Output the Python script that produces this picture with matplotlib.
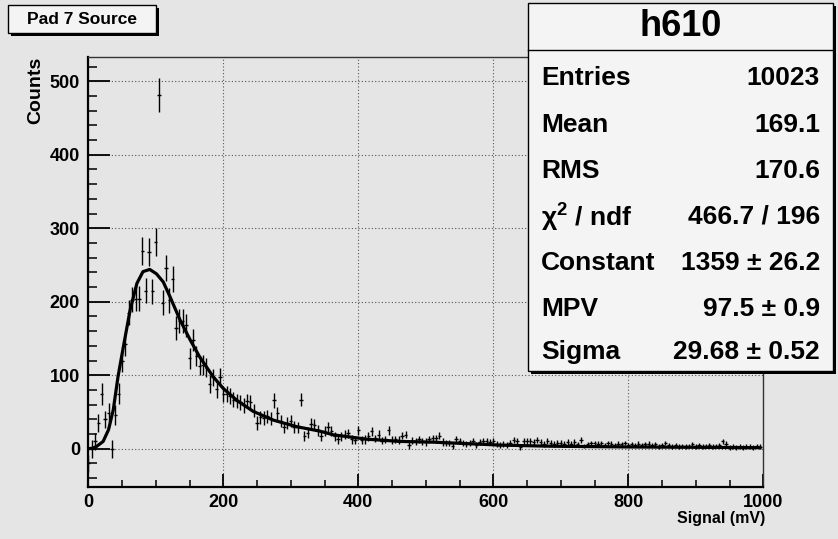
import numpy as np
import matplotlib
matplotlib.use("Agg")
import matplotlib.pyplot as plt
from matplotlib.patches import Rectangle
from matplotlib.ticker import MultipleLocator

# histogram h610: 200 bins of 5 mV, centres at 0..995 mV
bin_centres = np.arange(200) * 5.0
counts = [
    -20, 0, 10, 35, 74, 40, 49, 0, 46, 75,
    119, 142, 185, 203, 204, 204, 269, 215, 268, 214,
    281, 481, 199, 246, 202, 231, 164, 174, 174, 168,
    123, 148, 126, 113, 114, 110, 88, 97, 81, 98,
    75, 75, 72, 67, 65, 63, 59, 65, 63, 52,
    35, 43, 42, 44, 41, 66, 48, 38, 29, 35,
    38, 30, 29, 67, 17, 22, 34, 33, 25, 17,
    24, 30, 24, 17, 13, 17, 19, 21, 13, 12,
    25, 12, 13, 17, 24, 14, 19, 11, 13, 25,
    12, 13, 12, 18, 19, 5, 11, 10, 13, 10,
    9, 13, 14, 14, 18, 9, 8, 8, 4, 13,
    11, 8, 7, 8, 11, 5, 9, 11, 10, 9,
    11, 7, 5, 6, 5, 8, 12, 10, 3, 10,
    10, 11, 9, 12, 9, 6, 10, 8, 6, 8,
    8, 7, 9, 7, 9, 6, 12, 4, 6, 8,
    8, 7, 8, 5, 8, 7, 5, 7, 6, 8,
    5, 6, 5, 7, 5, 6, 7, 5, 6, 3,
    5, 8, 5, 3, 5, 3, 4, 3, 4, 6,
    3, 5, 3, 4, 5, 3, 4, 5, 10, 7,
    2, 3, 2, 3, 2, 3, 3, 2, 4, 3,
]
errors = [
    12, 12, 12, 12, 15, 12, 13, 12, 13, 14,
    15, 16, 17, 17, 17, 17, 19, 17, 19, 17,
    19, 23, 17, 18, 17, 18, 16, 16, 16, 16,
    14, 15, 14, 13, 13, 13, 12, 12, 12, 12,
    11, 11, 11, 10, 10, 10, 10, 10, 10, 9,
    9, 9, 9, 9, 9, 10, 9, 8, 8, 8,
    8, 8, 8, 9, 7, 7, 8, 8, 7, 7,
    7, 7, 7, 6, 6, 6, 6, 6, 6, 6,
    6, 6, 6, 6, 6, 5, 6, 5, 5, 6,
    5, 5, 5, 5, 5, 5, 5, 5, 5, 5,
    5, 5, 5, 5, 5, 5, 4, 4, 4, 5,
    4, 4, 4, 4, 4, 4, 4, 4, 4, 4,
    4, 4, 4, 4, 4, 4, 4, 4, 4, 4,
    4, 4, 4, 4, 4, 4, 4, 4, 4, 4,
    4, 4, 4, 4, 4, 3, 4, 3, 3, 3,
    3, 3, 3, 3, 3, 3, 3, 3, 3, 3,
    3, 3, 3, 3, 3, 3, 3, 3, 3, 3,
    3, 3, 3, 3, 3, 3, 3, 3, 3, 3,
    3, 3, 3, 3, 3, 3, 3, 3, 3, 3,
    3, 3, 3, 3, 3, 3, 3, 3, 3, 3,
]

# Landau fit curve
fit_x = [0, 7, 12, 22, 30, 37, 44, 52, 62, 72, 81, 91, 101, 111, 121, 136, 151,
         165, 185, 200, 220, 244, 274, 309, 343, 363, 413, 462, 511, 561, 610,
         684, 800, 900, 995]
fit_y = [0, 1, 3, 10, 26, 53, 98, 139, 189, 225, 241, 244, 238, 227, 207, 175, 148,
         125, 98, 82, 66, 51, 39, 30, 24, 19, 13, 10, 9, 7, 5,
         3.5, 2.5, 2, 1.5]

stat_labels = ["Entries", "Mean", "RMS", "χ$^{2}$ / ndf", "Constant", "MPV", "Sigma"]
stat_values = ["10023", "169.1", "170.6", "466.7 / 196", "1359 ± 26.2", "97.5 ± 0.9", "29.68 ± 0.52"]

BG = "#e5e5e5"
W, H = 838, 539

plt.rcParams["font.family"] = ["Liberation Sans", "DejaVu Sans"]
plt.rcParams["font.weight"] = "bold"
plt.rcParams["mathtext.fontset"] = "custom"
plt.rcParams["mathtext.rm"] = "Liberation Sans:bold"
plt.rcParams["mathtext.bf"] = "Liberation Sans:bold"


def fpos(x, y):
    # pixel position in the 838x539 picture -> figure fraction
    return x / W, 1 - y / H


fig = plt.figure(figsize=(8.38, 5.39), dpi=100)
fig.patch.set_facecolor(BG)
ax = fig.add_axes([88.3 / W, 1 - 487 / H, 675 / W, 430 / H])
ax.set_facecolor(BG)

ax.errorbar(bin_centres, counts, yerr=errors, xerr=2.5, fmt="none",
            ecolor="black", elinewidth=1.0, capsize=0, zorder=2)
ax.plot(fit_x, fit_y, color="black", lw=2.3, zorder=3)

ax.set_xlim(0, 1000)
ax.set_ylim(-52, 533)
ax.set_xticks([0, 200, 400, 600, 800, 1000])
ax.set_yticks([0, 100, 200, 300, 400, 500])
ax.xaxis.set_minor_locator(MultipleLocator(50))
ax.yaxis.set_minor_locator(MultipleLocator(20))
ax.grid(True, which="major", ls=(0, (1, 2)), color="#555555", lw=0.8, zorder=1)

ax.tick_params(axis="y", which="major", direction="in", length=16, width=1.3,
               labelsize=13, pad=6)
ax.tick_params(axis="y", which="minor", direction="in", length=6.5, width=1.1)
ax.tick_params(axis="x", which="major", direction="in", length=9.5, width=1.3,
               labelsize=13, pad=5)
ax.tick_params(axis="x", which="minor", direction="in", length=5, width=1.1)

for s in ["left", "bottom"]:
    ax.spines[s].set_linewidth(1.6)
for s in ["top", "right"]:
    ax.spines[s].set_linewidth(1.0)
    ax.spines[s].set_color("#333333")

fig.text(*fpos(36, 57), "Counts", rotation=90, ha="center", va="top", fontsize=14)
fig.text(*fpos(765, 518), "Signal (mV)", ha="right", va="center", fontsize=11.5)

# title box
x0, y0 = fpos(8, 33)
x1, y1 = fpos(156, 5)
fig.patches.append(Rectangle((x0 + 2.5 / W, y0 - 2.5 / H), x1 - x0, y1 - y0,
                             transform=fig.transFigure, facecolor="black", zorder=5))
fig.patches.append(Rectangle((x0, y0), x1 - x0, y1 - y0, transform=fig.transFigure,
                             facecolor="#f4f4f4", edgecolor="black", lw=1.0, zorder=6))
fig.text(*fpos(82, 19), "Pad 7 Source", ha="center", va="center", fontsize=12.5, zorder=7)

# stats box
x0, y0 = fpos(528, 371)
x1, y1 = fpos(833, 3)
fig.patches.append(Rectangle((x0 + 3 / W, y0 - 3 / H), x1 - x0, y1 - y0,
                             transform=fig.transFigure, facecolor="black", zorder=5))
fig.patches.append(Rectangle((x0, y0), x1 - x0, y1 - y0, transform=fig.transFigure,
                             facecolor="#f4f4f4", edgecolor="black", lw=1.0, zorder=6))
lx0, ly = fpos(528, 50)
lx1, _ = fpos(833, 50)
fig.add_artist(plt.Line2D([lx0, lx1], [ly, ly], transform=fig.transFigure,
                          color="black", lw=1.0, zorder=7))
fig.text(*fpos(681, 27), "h610", ha="center", va="center", fontsize=26, zorder=8)

row_y = [78, 125, 171, 217, 263, 309, 352]
for lab, val, yy in zip(stat_labels, stat_values, row_y):
    fig.text(*fpos(541, yy), lab, ha="left", va="center", fontsize=19, zorder=8)
    fig.text(*fpos(820, yy), val, ha="right", va="center", fontsize=19, zorder=8)

fig.savefig("out.png", dpi=100, facecolor=BG)
